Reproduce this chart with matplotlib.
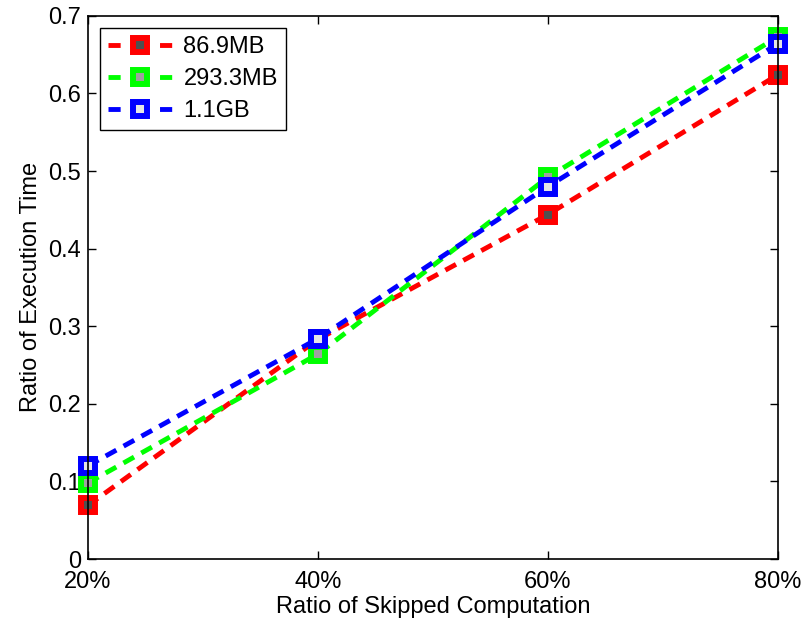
import numpy as np
import matplotlib.pyplot as plt
from matplotlib.legend_handler import HandlerLine2D

plt.rcParams['font.family'] = ['Liberation Sans', 'DejaVu Sans']

skipped = [20, 40, 60, 80]
xlabels = ['20%', '40%', '60%', '80%']
names = ['86.9MB', '293.3MB', '1.1GB']
ratio_869mb = [0.069, 0.283, 0.444, 0.624]
ratio_2933mb = [0.098, 0.264, 0.492, 0.673]
ratio_11gb = [0.120, 0.284, 0.480, 0.664]

colors = ['#ff0000', '#00ff00', '#0000ff']
faces = ['#505050', '#a0a0a0', '#e6e6e6']

fig = plt.figure(figsize=(8.06, 6.25), dpi=100)
ax = fig.add_axes([0.109, 0.1056, 0.856, 0.869])

for vals, name, c, fc in zip([ratio_869mb, ratio_2933mb, ratio_11gb], names, colors, faces):
    ax.plot(skipped, vals, linestyle=(0, (2.5, 1.7)), color=c, linewidth=3.5,
            marker='s', markersize=10, markerfacecolor=fc, markeredgecolor=c,
            markeredgewidth=4.3, label=name, clip_on=False)

ax.set_xlim(20, 80)
ax.set_ylim(0, 0.7)
ax.set_xticks(skipped)
ax.set_xticklabels(xlabels)
ax.set_yticks(np.arange(0, 0.71, 0.1))
ax.set_yticklabels(['0', '0.1', '0.2', '0.3', '0.4', '0.5', '0.6', '0.7'])
ax.tick_params(direction='in', labelsize=17, length=6, width=1, top=True, right=True)
ax.tick_params(axis='x', pad=9)
ax.tick_params(axis='y', pad=5)
for s in ax.spines.values():
    s.set_linewidth(1.2)
ax.set_xlabel('Ratio of Skipped Computation', fontsize=17, labelpad=2)
ax.set_ylabel('Ratio of Execution Time', fontsize=17, labelpad=4)


# legend handle: one short dash on each side of the marker, like matlab
def legend_dash(leg_line, orig):
    leg_line.update_from(orig)
    leg_line.set_markevery([1])
    leg_line.set_linestyle((0, (2.5, 8.1)))


leg = ax.legend(loc='upper left', fontsize=17, fancybox=False, edgecolor='black',
                framealpha=1, handlelength=2.7, borderaxespad=0.5, labelspacing=0.42,
                handletextpad=0.5, borderpad=0.35,
                handler_map={l: HandlerLine2D(update_func=legend_dash) for l in ax.get_lines()})
leg.get_frame().set_linewidth(1)

fig.savefig('out.png', dpi=100)
